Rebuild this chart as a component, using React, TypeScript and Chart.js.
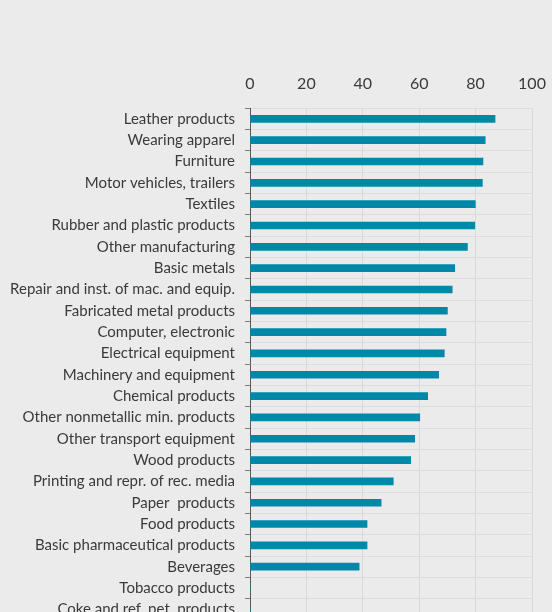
import React, { useEffect, useRef } from "react";
import { Chart, registerables } from "chart.js";

Chart.register(...registerables);

const categories = [
  "Leather products",
  "Wearing apparel",
  "Furniture",
  "Motor vehicles, trailers",
  "Textiles",
  "Rubber and plastic products",
  "Other manufacturing",
  "Basic metals",
  "Repair and inst. of mac. and equip.",
  "Fabricated metal products",
  "Computer, electronic",
  "Electrical equipment",
  "Machinery and equipment",
  "Chemical products",
  "Other nonmetallic min. products",
  "Other transport equipment",
  "Wood products",
  "Printing and repr. of rec. media",
  "Paper  products",
  "Food products",
  "Basic pharmaceutical products",
  "Beverages",
  "Tobacco products",
  "Coke and ref. pet. products",
];

const values = [
  86.9, 83.4, 82.6, 82.4, 79.9, 79.7, 77.1, 72.6, 71.7, 70.0, 69.5, 68.9,
  66.9, 63.0, 60.2, 58.4, 57.0, 50.8, 46.5, 41.5, 41.5, 38.7, 0, 0,
];

const xTicks = [0, 20, 40, 60, 80, 100];

const BG = "#ebebeb";
const BAR = "#0088ab";
const TEXT = "#3a3a3a";
const FONT = "Lato, 'Open Sans', sans-serif";

export default function App() {
  const ref = useRef<HTMLCanvasElement | null>(null);

  useEffect(() => {
    document.body.style.margin = "0";
    document.body.style.background = BG;
    const canvas = ref.current;
    if (!canvas) return;
    const chart = new Chart(canvas, {
      type: "bar",
      data: {
        labels: categories,
        datasets: [
          {
            data: values,
            backgroundColor: BAR,
            borderWidth: 0,
            barThickness: 7,
          },
        ],
      },
      options: {
        indexAxis: "y",
        animation: false,
        responsive: false,
        maintainAspectRatio: false,
        layout: { padding: { top: 59, right: 20, bottom: 20, left: 0 } },
        plugins: {
          legend: { display: false },
          tooltip: { enabled: false },
        },
        scales: {
          x: {
            position: "top",
            min: 0,
            max: 100,
            afterBuildTicks: (scale: any) => {
              scale.ticks = xTicks.map((v) => ({ value: v }));
            },
            afterFit: (scale: any) => {
              scale.paddingRight = 0;
              scale.paddingLeft = 0;
            },
            grid: {
              color: "#d9d9d9",
              drawTicks: false,
            },
            border: { display: false },
            ticks: {
              color: TEXT,
              font: { family: FONT, size: 16 },
              padding: 15,
              maxRotation: 0,
            },
          },
          y: {
            afterFit: (scale: any) => {
              scale.width = 250;
            },
            grid: {
              color: "#dcdcdc",
              tickColor: "#7f7f7f",
              tickLength: 5,
              offset: true,
            },
            border: { display: true, color: "#595959", width: 1 },
            ticks: {
              color: TEXT,
              font: { family: FONT, size: 15 },
              padding: 10,
              autoSkip: false,
            },
          },
        },
      },
    });
    return () => chart.destroy();
  }, []);

  return (
    <div style={{ width: 552, height: 640, background: BG }}>
      <canvas ref={ref} width={552} height={640} style={{ display: "block" }} />
    </div>
  );
}
